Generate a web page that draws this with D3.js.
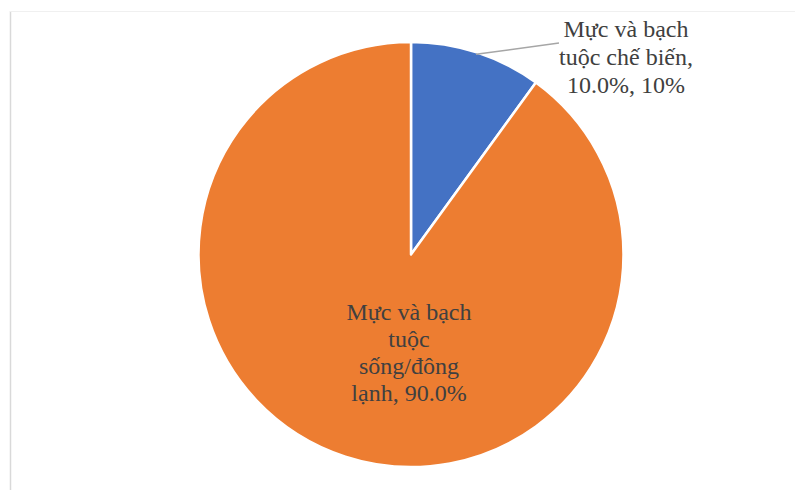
<!DOCTYPE html>
<html>
<head>
<meta charset="utf-8">
<script src="https://cdn.jsdelivr.net/npm/d3@7"></script>
<style>
  html, body { margin: 0; padding: 0; background: #fff; }
  #wrap { position: relative; width: 795px; height: 490px; }
  svg { display: block; position: absolute; left: 0; top: 0; }
  .lbl {
    position: absolute;
    font-family: "Liberation Serif", Tinos, "Times New Roman", serif;
    font-size: 24px;
    color: #404040;
    text-align: center;
    white-space: nowrap;
    transform: translateX(-50%);
  }
</style>
</head>
<body>
<div id="wrap"><svg id="chart" width="795" height="490"></svg></div>
<script>
// Product shares
const categories = ["Mực và bạch tuộc chế biến", "Mực và bạch tuộc sống/đông lạnh"];
const values = [10, 90];
const colors = ["#4472C4", "#ED7D31"];
// Label lines as shown on the chart
const labelLines = [
  ["Mực và bạch", "tuộc chế biến,", "10.0%, 10%"],
  ["Mực và bạch", "tuộc", "sống/đông", "lạnh, 90.0%"]
];

const svg = d3.select("#chart");
const wrap = d3.select("#wrap");
const W = 795, H = 490;

// chart area frame
svg.append("line").attr("x1", 10.5).attr("x2", 10.5).attr("y1", 11).attr("y2", H)
  .attr("stroke", "#d9d9d9").attr("stroke-width", 1.5);
svg.append("line").attr("x1", 10).attr("x2", W).attr("y1", 11.5).attr("y2", 11.5)
  .attr("stroke", "#f0f0f0").attr("stroke-width", 1);

const cx = 411, cy = 254.5, r = 212.5;
const data = categories.map((c, i) => ({ name: c, value: values[i], lines: labelLines[i], color: colors[i] }));

const pie = d3.pie().value(d => d.value).sort(null);
const arc = d3.arc().innerRadius(0).outerRadius(r);
const arcs = pie(data);

const g = svg.append("g").attr("transform", `translate(${cx},${cy})`);
g.selectAll("path").data(arcs).join("path")
  .attr("d", arc)
  .attr("fill", d => d.data.color)
  .attr("stroke", "#fff")
  .attr("stroke-width", 2.5)
  .attr("stroke-linejoin", "round");

// multi-line label centred on x; top gives the first line box top
function drawLabel(lines, x, top, lineH) {
  const div = wrap.append("div").attr("class", "lbl")
    .style("left", x + "px").style("top", top + "px")
    .style("line-height", lineH + "px");
  lines.forEach((l, i) => {
    if (i) div.append("br");
    div.append("span").text(l);
  });
}

// Outside label for the small slice with a leader line
const a0 = arcs[0];
const mid0 = (a0.startAngle + a0.endAngle) / 2;
const p0 = [Math.sin(mid0) * (r - 2), -Math.cos(mid0) * (r - 2)];
g.append("line")
  .attr("x1", p0[0]).attr("y1", p0[1])
  .attr("x2", 559 - cx).attr("y2", 43 - cy)
  .attr("stroke", "#a6a6a6").attr("stroke-width", 1.5);
drawLabel(a0.data.lines, 626, 15, 28);

// Inside label for the large slice
drawLabel(arcs[1].data.lines, 409, 298.5, 27);
</script>
</body>
</html>
